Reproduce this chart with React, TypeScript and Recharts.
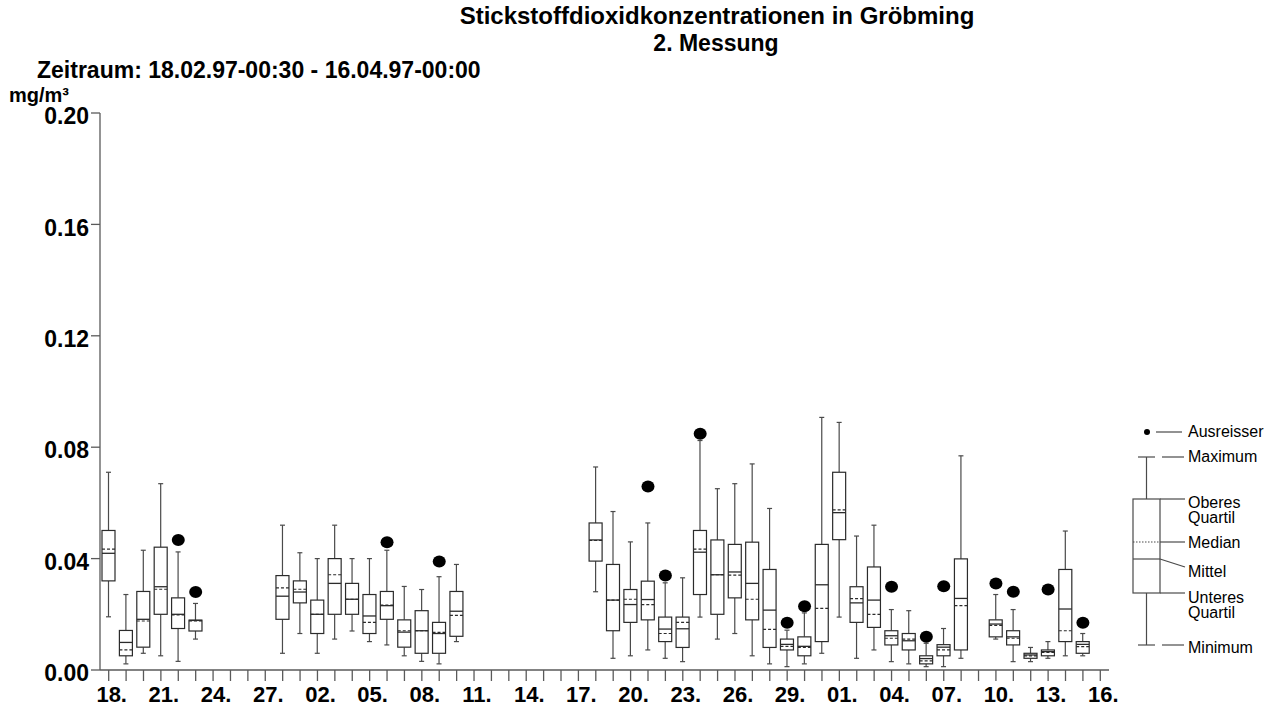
import { Bar, ComposedChart, Scatter, XAxis, YAxis } from 'recharts'

// one entry per day, 18.02.97 - 16.04.97; null = no measurement that day
const dates = [
  '18.02', '19.02', '20.02', '21.02', '22.02', '23.02', '24.02', '25.02', '26.02', '27.02', '28.02',
  '01.03', '02.03', '03.03', '04.03', '05.03', '06.03', '07.03', '08.03', '09.03', '10.03',
  '11.03', '12.03', '13.03', '14.03', '15.03', '16.03', '17.03', '18.03', '19.03', '20.03',
  '21.03', '22.03', '23.03', '24.03', '25.03', '26.03', '27.03', '28.03', '29.03', '30.03', '31.03',
  '01.04', '02.04', '03.04', '04.04', '05.04', '06.04', '07.04', '08.04', '09.04', '10.04',
  '11.04', '12.04', '13.04', '14.04', '15.04', '16.04',
]

const minimum = [
  0.0191, 0.0022, 0.006, 0.0051, 0.0031, 0.0111, null, null, null, null, 0.006,
  0.0131, 0.006, 0.0111, 0.014, 0.0102, 0.009, 0.0051, 0.0031, 0.0022, 0.0102,
  null, null, null, null, null, null, null, 0.0281, 0.0042, 0.0051,
  0.0072, 0.0042, 0.003, 0.019, 0.0111, 0.0131, 0.0051, 0.0022, 0.0012, 0.0022, 0.006,
  0.019, 0.0042, 0.0072, 0.003, 0.0022, 0.0012, 0.0012, 0.0042, null, 0.0111,
  0.003, 0.003, 0.0042, 0.0051, 0.0051, null,
]

const lowerQuartile = [
  0.032, 0.0051, 0.0082, 0.02, 0.0149, 0.014, null, null, null, null, 0.0182,
  0.0241, 0.0131, 0.02, 0.02, 0.0131, 0.0182, 0.0082, 0.006, 0.006, 0.0121,
  null, null, null, null, null, null, null, 0.0391, 0.0141, 0.0171,
  0.018, 0.0102, 0.0081, 0.0271, 0.02, 0.0259, 0.018, 0.0081, 0.0072, 0.0051, 0.0102,
  0.0468, 0.0171, 0.0153, 0.009, 0.0072, 0.0022, 0.0051, 0.0072, null, 0.0119,
  0.009, 0.0042, 0.0051, 0.0102, 0.006, null,
]

const median = [
  0.0434, 0.0072, 0.0176, 0.029, 0.0198, 0.0176, null, null, null, null, 0.0295,
  0.029, 0.02, 0.0342, 0.0254, 0.0171, 0.0233, 0.0141, 0.0141, 0.0135, 0.0196,
  null, null, null, null, null, null, null, 0.0465, 0.0251, 0.0254,
  0.0235, 0.0131, 0.0171, 0.0434, 0.0342, 0.0341, 0.0254, 0.0146, 0.0085, 0.0081, 0.0221,
  0.0575, 0.0256, 0.02, 0.0114, 0.0111, 0.0033, 0.0072, 0.0231, null, 0.016,
  0.0114, 0.0051, 0.0063, 0.0141, 0.0084, null,
]

const mean = [
  0.0419, 0.0099, 0.0182, 0.0299, 0.02, 0.0178, null, null, null, null, 0.0265,
  0.028, 0.02, 0.0311, 0.0254, 0.0194, 0.0231, 0.0136, 0.0141, 0.0131, 0.0211,
  null, null, null, null, null, null, null, 0.0467, 0.0251, 0.0235,
  0.0253, 0.0147, 0.0148, 0.0423, 0.0342, 0.0352, 0.0311, 0.0215, 0.0092, 0.0085, 0.0306,
  0.0565, 0.0241, 0.0251, 0.0123, 0.0105, 0.0041, 0.0082, 0.0257, null, 0.0165,
  0.0119, 0.0054, 0.0066, 0.0219, 0.0092, null,
]

const upperQuartile = [
  0.0501, 0.0142, 0.0282, 0.0441, 0.0259, 0.0179, null, null, null, null, 0.0339,
  0.032, 0.0251, 0.04, 0.0311, 0.0271, 0.0282, 0.018, 0.0213, 0.0171, 0.0282,
  null, null, null, null, null, null, null, 0.0528, 0.0379, 0.0289,
  0.0319, 0.019, 0.019, 0.0501, 0.0467, 0.0451, 0.0459, 0.0361, 0.0111, 0.0119, 0.0451,
  0.071, 0.0299, 0.037, 0.0141, 0.0131, 0.0051, 0.0091, 0.0399, null, 0.018,
  0.0141, 0.006, 0.0072, 0.0361, 0.0102, null,
]

const maximum = [
  0.071, 0.0271, 0.043, 0.0669, 0.0424, 0.0239, null, null, null, null, 0.052,
  0.0421, 0.04, 0.052, 0.04, 0.04, 0.043, 0.03, 0.0289, 0.0335, 0.0379,
  null, null, null, null, null, null, null, 0.0729, 0.0569, 0.046,
  0.0528, 0.0313, 0.0331, 0.0824, 0.0651, 0.0669, 0.074, 0.058, 0.0143, 0.0205, 0.0907,
  0.0889, 0.0481, 0.052, 0.0217, 0.0213, 0.0096, 0.0149, 0.0769, null, 0.0271,
  0.0217, 0.0081, 0.0102, 0.0499, 0.0131, null,
]

const outliers = [
  null, null, null, null, 0.0467, 0.028, null, null, null, null, null,
  null, null, null, null, null, 0.0459, null, null, 0.039, null,
  null, null, null, null, null, null, null, null, null, null,
  0.0659, 0.0339, null, 0.0848, null, null, null, null, 0.017, 0.0229, null,
  null, null, null, 0.0299, null, 0.0119, 0.0301, null, null, 0.0311,
  0.0281, null, 0.0289, null, 0.017, null,
]

const yTicks = [0, 0.04, 0.08, 0.12, 0.16, 0.2]

const FONT = '"Liberation Sans", Arial, Helvetica, sans-serif'
const BOX = '#2b2b2b'
const WHISKER = '#4a4a4a'
const AXIS = '#5a5a5a'

const rows = dates.map((date, i) => ({
  date,
  range: minimum[i] == null ? null : [minimum[i], maximum[i]],
  min: minimum[i],
  q1: lowerQuartile[i],
  median: median[i],
  mean: mean[i],
  q3: upperQuartile[i],
  max: maximum[i],
  outlier: outliers[i],
}))

// the bar spans min..max; the other statistics are placed on the same linear scale
function BoxShape(props: any) {
  const { x, y, width, height, payload } = props
  if (!payload || payload.min == null || !Number.isFinite(y)) return null
  const top = Math.min(y, y + height)
  const bottom = Math.max(y, y + height)
  const span = payload.max - payload.min || 1
  const toY = (v: number) => bottom - ((v - payload.min) / span) * (bottom - top)
  const cx = x + width / 2
  const q1 = toY(payload.q1)
  const q3 = toY(payload.q3)
  const med = toY(payload.median)
  const avg = toY(payload.mean)
  return (
    <g>
      <line x1={cx} x2={cx} y1={top} y2={q3} stroke={WHISKER} strokeWidth={1.2} />
      <line x1={cx} x2={cx} y1={q1} y2={bottom} stroke={WHISKER} strokeWidth={1.2} />
      <line x1={cx - 2.5} x2={cx + 2.5} y1={top} y2={top} stroke={WHISKER} strokeWidth={1.2} />
      <line x1={cx - 2.5} x2={cx + 2.5} y1={bottom} y2={bottom} stroke={WHISKER} strokeWidth={1.2} />
      <rect x={x} y={q3} width={width} height={Math.max(q1 - q3, 0.5)} fill="#fff" stroke={BOX} strokeWidth={1.2} />
      <line x1={x} x2={x + width} y1={med} y2={med} stroke={BOX} strokeWidth={1.2} strokeDasharray="3 2" />
      <line x1={x} x2={x + width} y1={avg} y2={avg} stroke={BOX} strokeWidth={1.3} />
    </g>
  )
}

function OutlierDot(props: any) {
  const { cx, cy, payload } = props
  if (!payload || payload.outlier == null || !Number.isFinite(cy)) return null
  return <ellipse cx={cx} cy={cy} rx={6.5} ry={6} fill="#000" />
}

function DayTick(props: any) {
  const { x, y, payload } = props
  const i = dates.indexOf(payload.value)
  if (i % 3 !== 0) return null
  return (
    <text x={x + 3} y={y} dy="0.71em" textAnchor="middle" fill="#000"
      style={{ fontFamily: FONT, fontSize: 22, fontWeight: 700 }}>
      {payload.value.slice(0, 3)}
    </text>
  )
}

function ValueTick(props: any) {
  const { x, y, payload } = props
  return (
    <text x={x} y={y + 3} dy="0.355em" textAnchor="end" fill="#000"
      style={{ fontFamily: FONT, fontSize: 23, fontWeight: 700 }}>
      {Number(payload.value).toFixed(2)}
    </text>
  )
}

function BoxLegend() {
  const txt = { fontFamily: FONT, fontSize: 16, fill: '#000' }
  const lx = 1188
  return (
    <g stroke={WHISKER} strokeWidth={1.2}>
      <circle cx={1147} cy={432} r={3} fill="#000" stroke="none" />
      <line x1={1156} x2={1182} y1={432} y2={432} />
      <line x1={1138} x2={1155} y1={457} y2={457} />
      <line x1={1162} x2={1184} y1={457} y2={457} />
      <line x1={1146.5} x2={1146.5} y1={457} y2={499} />
      <rect x={1133} y={499} width={27} height={94} fill="none" />
      <line x1={1133} x2={1160} y1={542} y2={542} strokeDasharray="1.5 1.5" />
      <line x1={1133} x2={1160} y1={559} y2={559} />
      <line x1={1160} x2={1185} y1={499} y2={499} />
      <line x1={1160} x2={1185} y1={542} y2={542} />
      <line x1={1160} x2={1185} y1={559} y2={567} />
      <line x1={1160} x2={1185} y1={593} y2={593} />
      <line x1={1146.5} x2={1146.5} y1={593} y2={645} />
      <line x1={1138} x2={1155} y1={645} y2={645} />
      <line x1={1162} x2={1184} y1={645} y2={645} />
      <g stroke="none" style={txt}>
        <text x={lx} y={437}>Ausreisser</text>
        <text x={lx} y={462}>Maximum</text>
        <text x={lx} y={508}>Oberes</text>
        <text x={lx} y={523}>Quartil</text>
        <text x={lx} y={548}>Median</text>
        <text x={lx} y={577}>Mittel</text>
        <text x={lx} y={603}>Unteres</text>
        <text x={lx} y={618}>Quartil</text>
        <text x={lx} y={653}>Minimum</text>
      </g>
    </g>
  )
}

export default function App() {
  const bold = { fontFamily: FONT, fontWeight: 700, fill: '#000' }
  return (
    <div style={{ position: 'absolute', left: 0, top: 0, width: 1265, height: 710, background: '#fff' }}>
      <ComposedChart
        width={1265}
        height={710}
        data={rows}
        margin={{ top: 113, right: 156, bottom: 0, left: 0 }}
      >
        <XAxis
          dataKey="date"
          interval={0}
          height={40}
          tickSize={11}
          tickMargin={5}
          tick={<DayTick />}
          axisLine={{ stroke: AXIS, strokeWidth: 1.3 }}
          tickLine={{ stroke: AXIS, strokeWidth: 1.3 }}
        />
        <YAxis
          type="number"
          domain={[0, 0.2]}
          ticks={yTicks}
          width={100}
          tickSize={9}
          tickMargin={2}
          tick={<ValueTick />}
          axisLine={{ stroke: AXIS, strokeWidth: 1.3 }}
          tickLine={{ stroke: AXIS, strokeWidth: 1.3 }}
        />
        <Bar dataKey="range" barSize={13} shape={<BoxShape />} isAnimationActive={false} />
        <Scatter dataKey="outlier" shape={<OutlierDot />} isAnimationActive={false} />
      </ComposedChart>
      <svg width={1265} height={710} style={{ position: 'absolute', left: 0, top: 0, pointerEvents: 'none' }}>
        <text x={717} y={24} textAnchor="middle" style={{ ...bold, fontSize: 24 }}>
          Stickstoffdioxidkonzentrationen in Gröbming
        </text>
        <text x={716} y={51} textAnchor="middle" style={{ ...bold, fontSize: 23 }}>
          2. Messung
        </text>
        <text x={37} y={78} style={{ ...bold, fontSize: 23 }}>
          Zeitraum: 18.02.97-00:30 - 16.04.97-00:00
        </text>
        <text x={9} y={102} style={{ ...bold, fontSize: 20 }}>
          mg/m³
        </text>
        <BoxLegend />
      </svg>
    </div>
  )
}
